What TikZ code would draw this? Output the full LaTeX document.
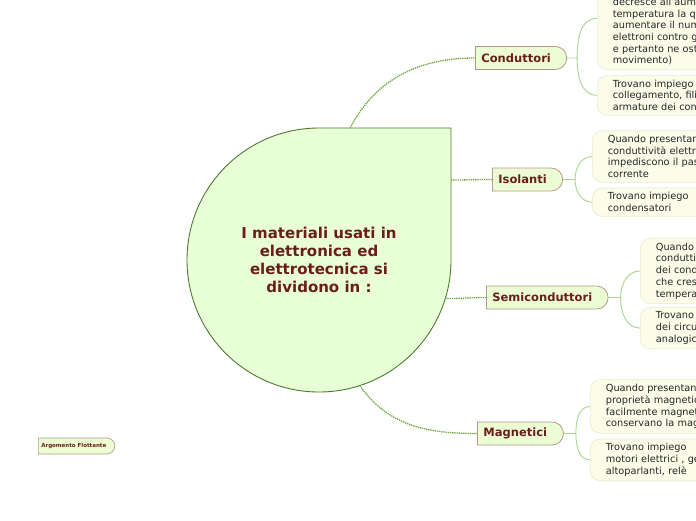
\documentclass[tikz,border=0pt]{standalone}
\usepackage{fontspec}
\setmainfont{DejaVu Sans}
\usetikzlibrary{positioning, shapes.misc}

\definecolor{topicfill}{HTML}{E9FFD6}
\definecolor{topicline}{HTML}{4F7A30}
\definecolor{linkgreen}{HTML}{6BA539}
\definecolor{branchfill}{HTML}{ECFDD4}
\definecolor{branchline}{HTML}{B8978B}
\definecolor{titlered}{HTML}{6B1D1D}
\definecolor{leaffill}{HTML}{FCFDE9}
\definecolor{leafline}{HTML}{ECEDD0}
\definecolor{twiggreen}{HTML}{A8D68E}

\begin{document}
\begin{tikzpicture}[x=1pt, y=1pt,
  topic/.style={align=center, text=titlered, font=\fontsize{15}{18}\selectfont\bfseries},
  branch/.style={rounded rectangle, rounded rectangle west arc=none, draw=branchline,
                 line width=0.8pt, fill=branchfill, text=titlered, anchor=west,
                 font=\fontsize{11.5}{13}\selectfont\bfseries, minimum height=23pt, inner xsep=6pt,
                 execute at end node=\hspace*{9pt}},
  floating/.style={rounded rectangle, rounded rectangle west arc=none, draw=branchline,
                 line width=0.6pt, fill=branchfill, text=titlered, anchor=west,
                 font=\fontsize{5.5}{6}\selectfont\bfseries, minimum height=16pt, inner xsep=3pt,
                 execute at end node=\hspace*{5pt}},
  leaf/.style={draw=leafline, line width=0.7pt, fill=leaffill, rounded corners=10pt,
               align=left, text width=210pt, inner xsep=15.5pt, inner ysep=4.5pt,
               font=\fontsize{9.75}{11.7}\selectfont, text=black!85},
  link/.style={draw=linkgreen, line width=1.3pt, dash pattern=on 1.3pt off 0.9pt},
  twig/.style={draw=twiggreen, line width=0.9pt}]
\useasboundingbox (0,0) rectangle (696,-520);
\clip (0,0) rectangle (696,-520);
\fill[white] (0,0) rectangle (696,-520);

% central topic
\coordinate (ctr) at (319,-260);
\path[draw=topicline, line width=0.9pt, fill=topicfill]
  (451,-260) arc[start angle=0, end angle=-270, radius=132pt] -- (451,-128) -- cycle;
\node[topic] (main) at (ctr) {I materiali usati in\\elettronica ed\\elettrotecnica si\\dividono in :};
\coordinate (mainN) at (350,-128);
\coordinate (mainE) at (451,-180);
\coordinate (mainSE) at ([shift={(-17:132)}]ctr);
\coordinate (mainS) at ([shift={(-72:132)}]ctr);

% main branches
\node[branch] (cond) at (475,-58) {Conduttori};
\node[branch] (isol) at (492,-179.5) {Isolanti};
\node[branch] (semi) at (486,-297.5) {Semiconduttori};
\node[branch] (magn) at (477,-433.5) {Magnetici};
\draw[link] (mainN) to[out=62,in=180] (cond.west);
\draw[link] (mainE) to[out=0,in=180] (isol.west);
\draw[link] (mainSE) to[out=0,in=180] (semi.west);
\draw[link] (mainS) to[out=-55,in=180] (magn.west);

% leaves
\node[leaf, anchor=south west] (condA) at (597,-70)
  {\rule{0pt}{34pt}decresce all'aumentare\\temperatura la quale\\aumentare il numero\\elettroni contro gli\\e pertanto ne ostacola\\movimento)};
\node[leaf, below=5pt of condA.south west, anchor=north west] (condB)
  {Trovano impiego\\collegamento, fili\\armature dei condensatori};
\node[leaf, anchor=west] (isolA) at (592,-156.5)
  {Quando presentano\\conduttività elettrica\\impediscono il passaggio\\corrente};
\node[leaf, below=5pt of isolA.south west, anchor=north west] (isolB)
  {Trovano impiego\\condensatori};
\node[leaf, anchor=west] (semiA) at (640,-271)
  {Quando\\conduttività\\dei conduttori\\che cresce\\temperatura};
\node[leaf, below=3pt of semiA.south west, anchor=north west] (semiB)
  {Trovano\\dei circuiti\\analogici};
\node[leaf, anchor=west] (magnA) at (590,-406.5)
  {Quando presentano\\proprietà magnetiche\\facilmente magnetizzabili\\conservano la magnetizzazione};
\node[leaf, below=5pt of magnA.south west, anchor=north west] (magnB)
  {Trovano impiego\\motori elettrici , generatori\\altoparlanti, relè};

% twigs
\coordinate[right=10pt of cond.east] (condJ);
\coordinate[right=12pt of isol.east] (isolJ);
\coordinate[right=12pt of semi.east] (semiJ);
\coordinate[right=12pt of magn.east] (magnJ);
\draw[twig] (cond.east) -- (condJ) to[out=90,in=180] (condA.west) (condJ) to[out=-90,in=180] (condB.west);
\draw[twig] (isol.east) -- (isolJ) to[out=90,in=180] (isolA.west) (isolJ) to[out=-90,in=180] (isolB.west);
\draw[twig] (semi.east) -- (semiJ) to[out=90,in=180] (semiA.west) (semiJ) to[out=-90,in=180] (semiB.west);
\draw[twig] (magn.east) -- (magnJ) to[out=90,in=180] (magnA.west) (magnJ) to[out=-90,in=180] (magnB.west);

% floating topic
\node[floating] (float) at (38,-446) {Argomento Flottante};
\end{tikzpicture}
\end{document}
